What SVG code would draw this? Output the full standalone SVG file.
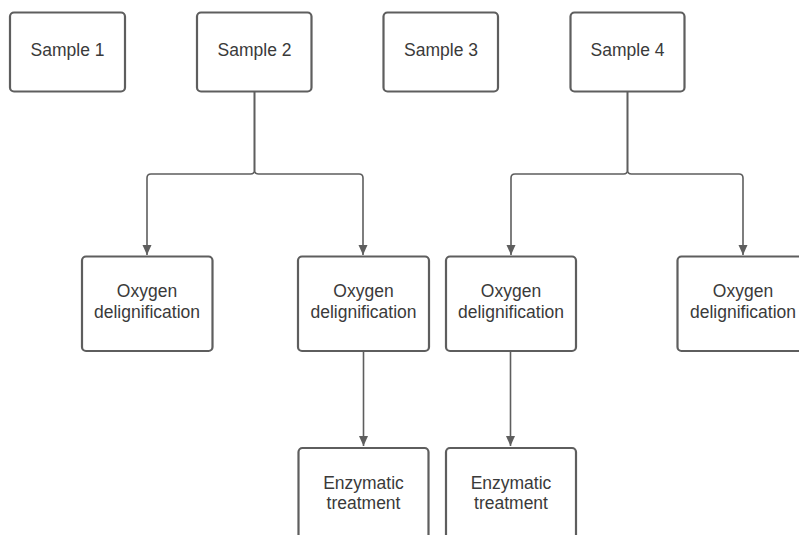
<svg xmlns="http://www.w3.org/2000/svg" width="799" height="535" viewBox="0 0 799 535">
<style>
.box{fill:#ffffff;stroke:#5e5e5e;stroke-width:2.2}
.t{font-family:"Liberation Sans",Arial,sans-serif;font-size:17.5px;fill:#3a3a3a;text-anchor:middle}
.c{fill:none;stroke:#5e5e5e;stroke-width:1.6}
</style>
<defs>
<marker id="ah" viewBox="0 0 10 10" refX="10" refY="5" markerWidth="10" markerHeight="10" markerUnits="userSpaceOnUse" orient="auto">
<path d="M0 0.5 L10 5 L0 9.5 Z" fill="#5e5e5e"/>
</marker>
</defs>
<rect width="799" height="535" fill="#ffffff"/>
<g id="connectors">
<path class="c" d="M254.5 92 V170 Q254.5 174 250.5 174 H151 Q147 174 147 178 V255" marker-end="url(#ah)"/>
<path class="c" d="M254.5 92 V170 Q254.5 174 258.5 174 H359 Q363 174 363 178 V255" marker-end="url(#ah)"/>
<path class="c" d="M627.5 92 V170 Q627.5 174 623.5 174 H515 Q511 174 511 178 V255" marker-end="url(#ah)"/>
<path class="c" d="M627.5 92 V170 Q627.5 174 631.5 174 H739 Q743 174 743 178 V255" marker-end="url(#ah)"/>
<path class="c" d="M363.5 351 V446" marker-end="url(#ah)"/>
<path class="c" d="M510.5 351 V446" marker-end="url(#ah)"/>
</g>
<g id="sample1"><rect class="box" x="10" y="12.5" width="115" height="79" rx="4"/><text class="t" x="67.5" y="56">Sample 1</text></g>
<g id="sample2"><rect class="box" x="197" y="12.5" width="114.5" height="79" rx="4"/><text class="t" x="254.5" y="56">Sample 2</text></g>
<g id="sample3"><rect class="box" x="383.5" y="12.5" width="114.5" height="79" rx="4"/><text class="t" x="441" y="56">Sample 3</text></g>
<g id="sample4"><rect class="box" x="570.5" y="12.5" width="114" height="79" rx="4"/><text class="t" x="627.5" y="56">Sample 4</text></g>
<g id="oxygen1"><rect class="box" x="82" y="256.5" width="130.5" height="94.5" rx="4"/><text class="t" x="147" y="297">Oxygen</text><text class="t" x="147" y="317.5">delignification</text></g>
<g id="oxygen2"><rect class="box" x="298" y="256.5" width="131" height="94.5" rx="4"/><text class="t" x="363.5" y="297">Oxygen</text><text class="t" x="363.5" y="317.5">delignification</text></g>
<g id="oxygen3"><rect class="box" x="446" y="256.5" width="130" height="94.5" rx="4"/><text class="t" x="511" y="297">Oxygen</text><text class="t" x="511" y="317.5">delignification</text></g>
<g id="oxygen4"><rect class="box" x="677.5" y="256.5" width="131" height="94.5" rx="4"/><text class="t" x="743" y="297">Oxygen</text><text class="t" x="743" y="317.5">delignification</text></g>
<g id="enzymatic1"><rect class="box" x="298.5" y="448" width="130" height="100" rx="4"/><text class="t" x="363.5" y="488.5">Enzymatic</text><text class="t" x="363.5" y="509">treatment</text></g>
<g id="enzymatic2"><rect class="box" x="446" y="448" width="130" height="100" rx="4"/><text class="t" x="511" y="488.5">Enzymatic</text><text class="t" x="511" y="509">treatment</text></g>
</svg>
